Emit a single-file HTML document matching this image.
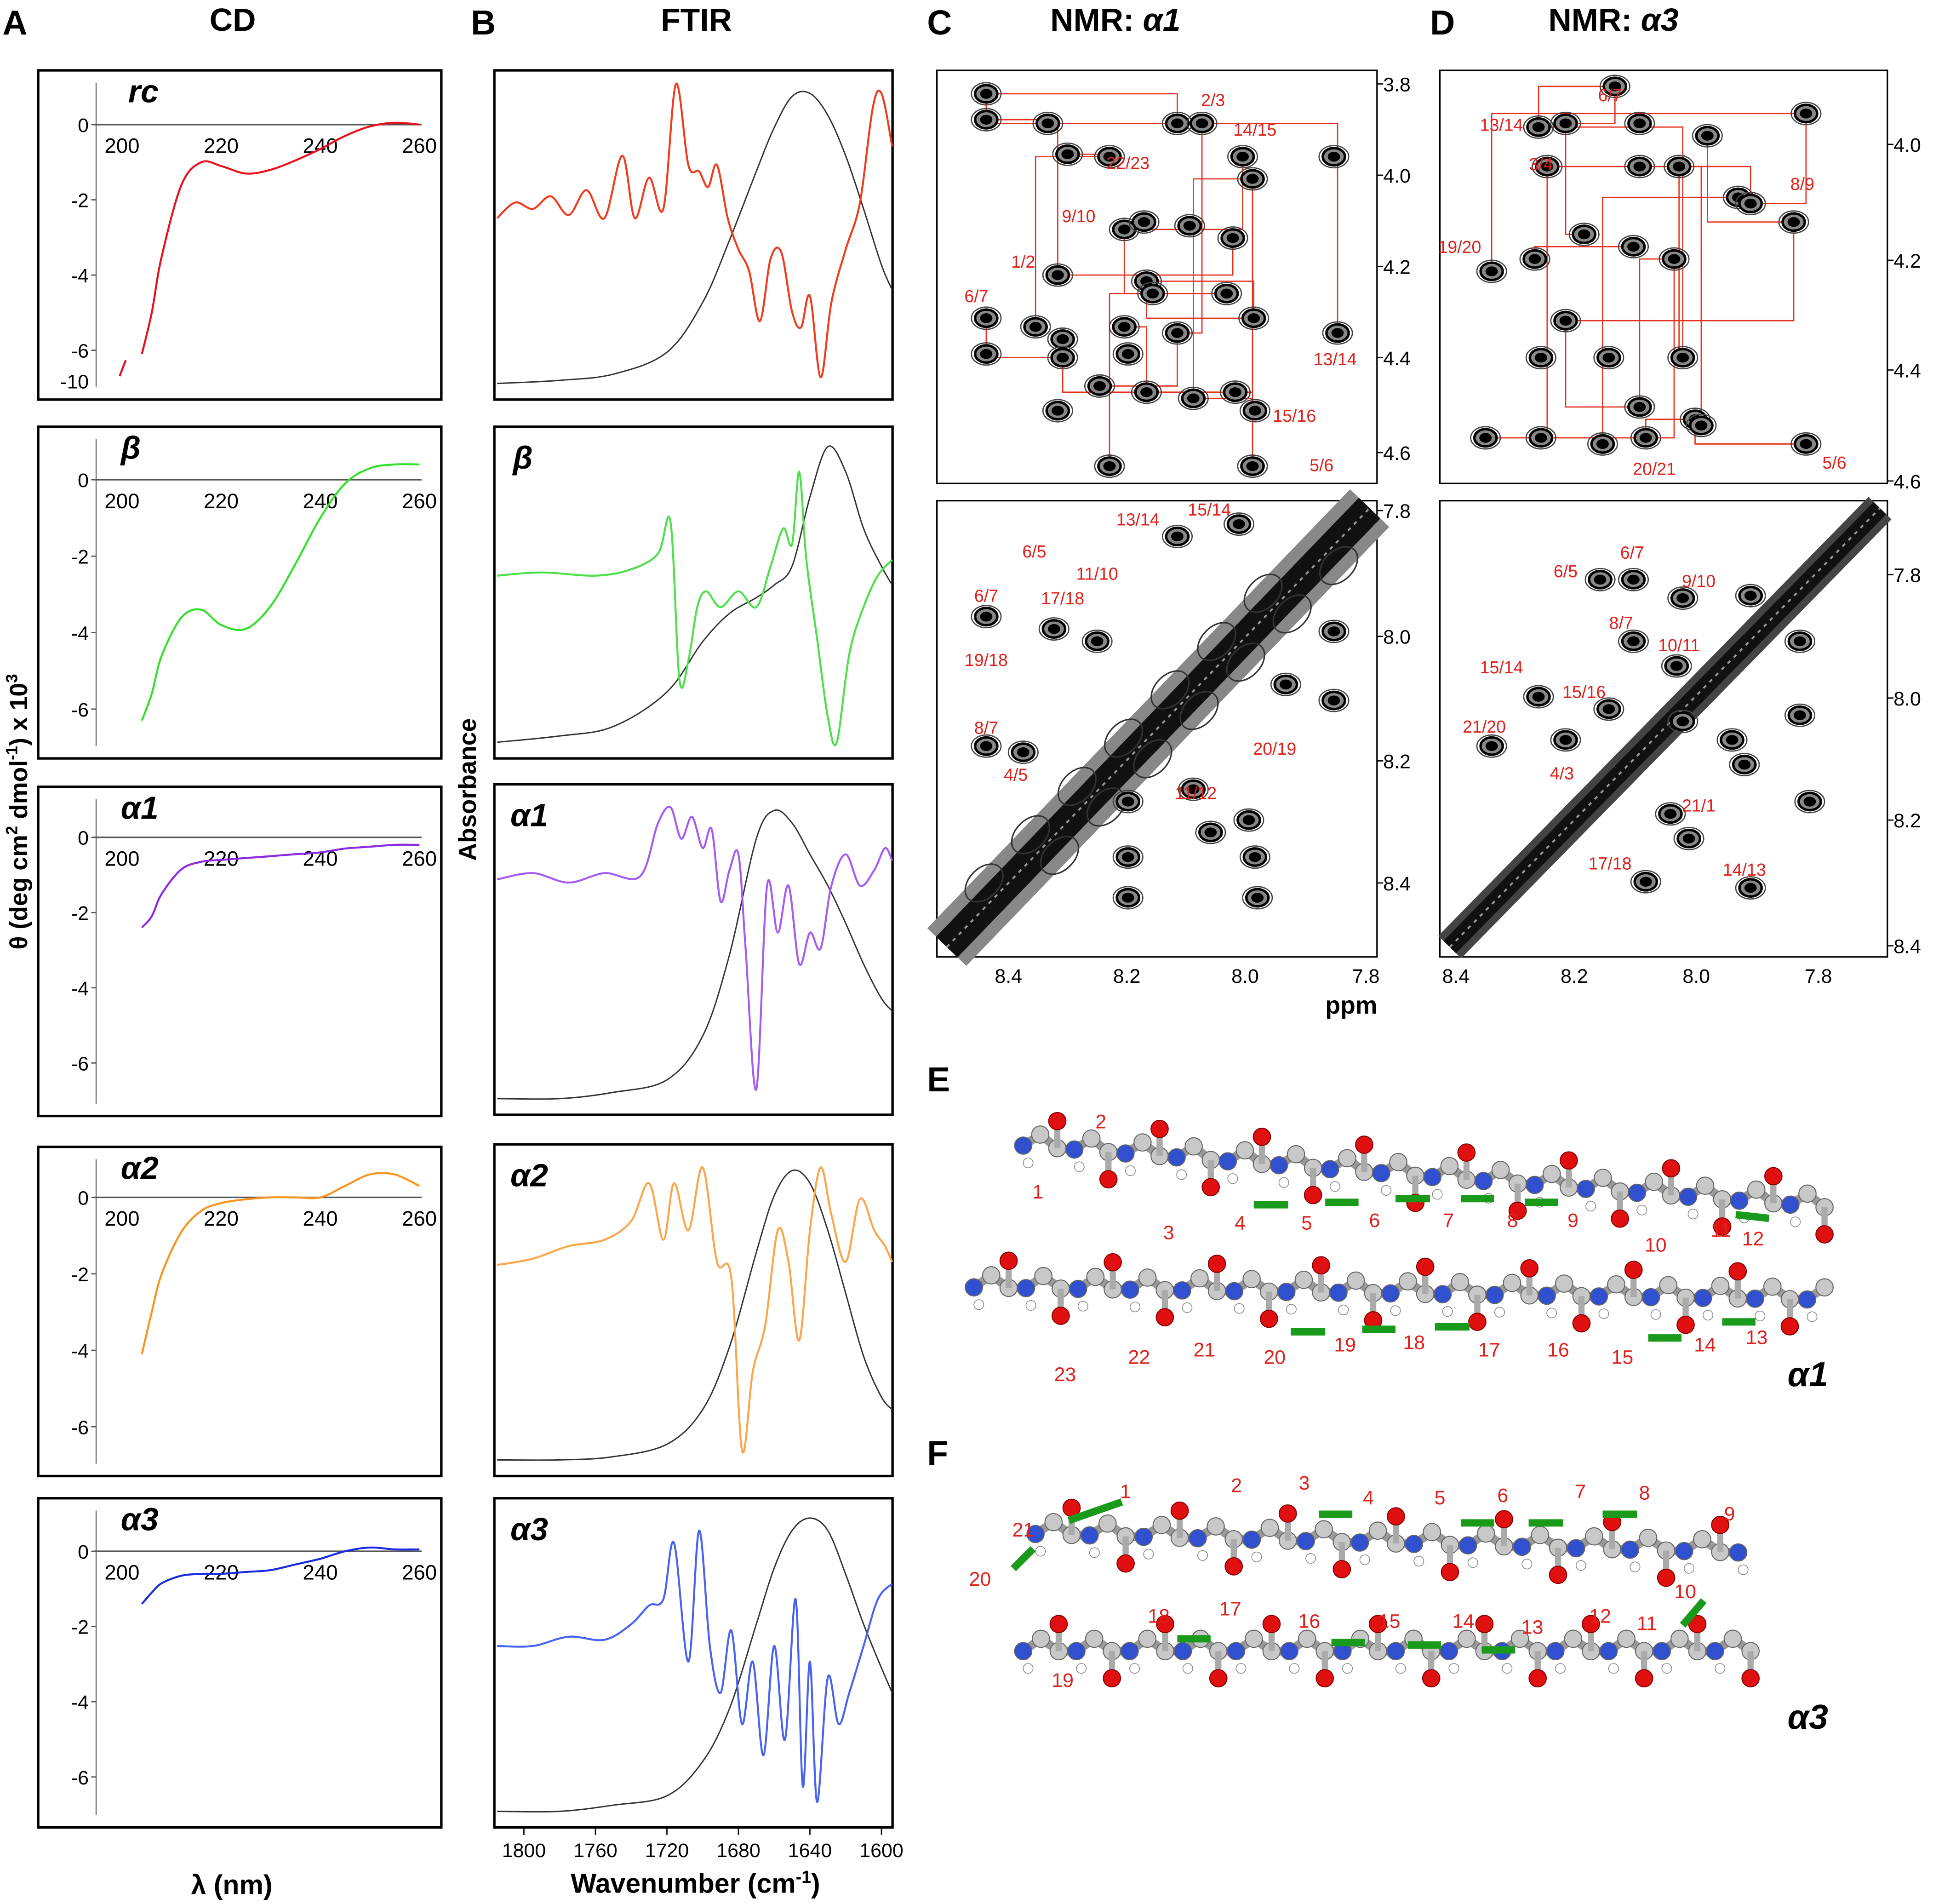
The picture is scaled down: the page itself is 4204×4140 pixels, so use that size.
<!DOCTYPE html>
<html><head><meta charset="utf-8"><style>
html,body{margin:0;padding:0;background:#fff}
svg{display:block}
text{font-family:"Liberation Sans",Arial,sans-serif}
</style></head><body>
<svg id="fig" xmlns="http://www.w3.org/2000/svg" width="4204" height="4140" viewBox="0 0 1568 1544">
<rect width="1568" height="1544" fill="#fff"/>
<g id="labels" font-weight="bold" font-size="28">
<text x="2" y="28">A</text>
<text x="170" y="25" font-size="26">CD</text>
<text x="382" y="28">B</text>
<text x="536" y="25" font-size="26">FTIR</text>
<text x="752" y="28">C</text>
<text x="852" y="25" font-size="26">NMR: <tspan font-style="italic">α1</tspan></text>
<text x="1160" y="28">D</text>
<text x="1256" y="25" font-size="26">NMR: <tspan font-style="italic">α3</tspan></text>
<text x="752" y="885">E</text>
<text x="752" y="1188">F</text>
<text x="155" y="1536" font-size="22">λ (nm)</text>
<text x="463" y="1535" font-size="22">Wavenumber (cm<tspan font-size="14" dy="-8">-1</tspan><tspan dy="8">)</tspan></text>
<text transform="translate(22,770) rotate(-90)" font-size="20">θ (deg cm<tspan font-size="13" dy="-8">2</tspan><tspan dy="8"> dmol</tspan><tspan font-size="13" dy="-8">-1</tspan><tspan dy="8">) x 10</tspan><tspan font-size="13" dy="-8">3</tspan></text>
<text transform="translate(386,698) rotate(-90)" font-size="20">Absorbance</text>
<text x="1075" y="822" font-size="20">ppm</text>
</g>
<g id="cd"></g><g id="ftir"></g><g id="nmr"></g><g id="mol"></g>
</svg>
<script>
const NS="http://www.w3.org/2000/svg";
function mk(parent,tag,attrs,txt){const e=document.createElementNS(NS,tag);for(const k in attrs)e.setAttribute(k,attrs[k]);if(txt!==undefined)e.textContent=txt;parent.appendChild(e);return e;}
function smooth(pts){let d="M"+pts[0][0].toFixed(1)+","+pts[0][1].toFixed(1);for(let i=0;i<pts.length-1;i++){const p0=pts[Math.max(0,i-1)],p1=pts[i],p2=pts[i+1],p3=pts[Math.min(pts.length-1,i+2)];d+="C"+(p1[0]+(p2[0]-p0[0])/6).toFixed(1)+","+(p1[1]+(p2[1]-p0[1])/6).toFixed(1)+" "+(p2[0]-(p3[0]-p1[0])/6).toFixed(1)+","+(p2[1]-(p3[1]-p1[1])/6).toFixed(1)+" "+p2[0].toFixed(1)+","+p2[1].toFixed(1);}return d;}

/* ---------- CD data ---------- */
const cdLambda=[204,206,208,212,216,220,225,230,235,240,245,250,255,260];
const cdRc=[-6.1,-5.0,-3.5,-1.6,-1.0,-1.1,-1.3,-1.2,-0.95,-0.65,-0.3,-0.05,0.05,0.0];
const cdBeta=[-6.3,-5.6,-4.6,-3.6,-3.4,-3.8,-3.9,-3.3,-2.2,-1.0,-0.1,0.3,0.4,0.4];
const cdA1=[-2.4,-2.1,-1.5,-0.85,-0.65,-0.6,-0.55,-0.5,-0.45,-0.4,-0.3,-0.25,-0.2,-0.2];
const cdA2=[-4.1,-3.0,-2.0,-0.9,-0.35,-0.15,-0.05,0.0,0.0,0.0,0.3,0.6,0.6,0.3];
const cdA3=[-1.4,-1.1,-0.85,-0.65,-0.6,-0.6,-0.55,-0.5,-0.35,-0.2,0.0,0.1,0.05,0.05];
const cdSeries=[cdRc,cdBeta,cdA1,cdA2,cdA3];
const cdNames=["rc","β","α1","α2","α3"];
const cdColors=["#e8101a","#33e02a","#8a2be2","#f7941d","#1a2be0"];
const cdTicksY=[0,-2,-4,-6];
const cdTicksX=[200,220,240,260];
const cdBoxes=[[57,324,101],[346,615,389],[638,905,679],[930,1197,971],[1215,1482,1258]];
const cdUnit=[30.5,31,30.5,31,30.5];
const cd=document.getElementById('cd');
cdSeries.forEach((ser,i)=>{
  const [top,bot,zy]=cdBoxes[i];const u=cdUnit[i];
  const xs=l=>99+(l-200)*4.02, ys=v=>zy-v*u;
  const g=mk(cd,'g',{});
  
  const r=mk(g,'rect',{x:31,y:top,width:327,height:bot-top,fill:'none',stroke:'#000','stroke-width':2});
  
  mk(g,'line',{x1:78,y1:top+10,x2:78,y2:bot-10,stroke:'#777','stroke-width':1});
  mk(g,'line',{x1:76,y1:zy,x2:342,y2:zy,stroke:'#555','stroke-width':1.2});
  cdTicksY.forEach(t=>{const y=ys(t);if(y>bot-8)return;mk(g,'line',{x1:74,y1:y,x2:78,y2:y,stroke:'#555'});
    const tl=mk(g,'text',{x:72,y:y+6,'font-size':16,'text-anchor':'end'},String(t));});
  cdTicksX.forEach(t=>{const tl=mk(g,'text',{x:xs(t),y:zy+23,'font-size':17,'text-anchor':'middle'},String(t));});
  const pts=cdLambda.map((l,k)=>[xs(l),ys(ser[k])]);
  const p=mk(g,'path',{d:smooth(pts),fill:'none',stroke:cdColors[i],'stroke-width':1.6});
  
  const nt=mk(g,'text',{x:i==0?104:98,y:top+26,'font-size':26,'font-weight':'bold','font-style':'italic'},cdNames[i]);
  
  if(i==0){mk(g,'text',{x:72,y:315,'font-size':16,'text-anchor':'end'},'-10');mk(g,'line',{x1:97,y1:305,x2:102,y2:292,stroke:'#e8101a','stroke-width':1.6});}
});

/* ---------- FTIR data ---------- */
const irWn=[[1815,1805,1795,1785,1775,1765,1755,1745,1738,1730,1722,1715,1708,1702,1697,1692,1686,1680,1674,1668,1662,1656,1650,1645,1640,1634,1628,1620,1612,1605,1600,1594],
 [1815,1790,1760,1740,1725,1718,1713,1708,1703,1698,1690,1680,1670,1662,1655,1650,1646,1642,1636,1630,1625,1618,1610,1602,1594],
 [1815,1795,1775,1755,1735,1725,1718,1712,1706,1700,1695,1690,1685,1680,1676,1670,1664,1658,1652,1646,1640,1634,1628,1620,1612,1604,1598,1594],
 [1815,1795,1775,1755,1740,1730,1722,1716,1708,1700,1692,1684,1678,1672,1665,1658,1652,1646,1640,1634,1628,1620,1612,1604,1598,1594],
 [1815,1795,1775,1755,1740,1730,1722,1716,1708,1702,1696,1690,1684,1678,1672,1666,1660,1654,1648,1644,1640,1636,1630,1624,1618,1610,1602,1594]];
const irColVals=[[0.45,0.40,0.42,0.38,0.44,0.36,0.45,0.25,0.45,0.32,0.42,0.02,0.28,0.30,0.35,0.28,0.45,0.55,0.62,0.78,0.58,0.56,0.75,0.80,0.70,0.96,0.72,0.55,0.40,0.10,0.05,0.22],
 [0.45,0.44,0.45,0.43,0.38,0.28,0.78,0.72,0.55,0.50,0.55,0.50,0.55,0.42,0.30,0.35,0.12,0.40,0.65,0.90,0.98,0.70,0.55,0.45,0.40],
 [0.28,0.26,0.29,0.26,0.27,0.10,0.05,0.15,0.08,0.18,0.12,0.35,0.25,0.20,0.50,0.95,0.30,0.45,0.30,0.55,0.45,0.50,0.30,0.20,0.30,0.25,0.18,0.22],
 [0.36,0.34,0.30,0.28,0.22,0.10,0.28,0.10,0.25,0.05,0.35,0.40,0.95,0.70,0.55,0.25,0.35,0.60,0.25,0.05,0.20,0.35,0.15,0.25,0.30,0.35],
 [0.45,0.45,0.42,0.43,0.38,0.32,0.30,0.12,0.50,0.08,0.45,0.60,0.40,0.70,0.50,0.80,0.45,0.75,0.30,0.90,0.50,0.95,0.55,0.70,0.60,0.45,0.30,0.25]];
const irBlkWn=[1815,1780,1750,1720,1700,1685,1670,1660,1650,1640,1630,1620,1610,1600,1594];
const irBlkVals=[[0.98,0.97,0.95,0.88,0.72,0.52,0.30,0.16,0.06,0.05,0.12,0.25,0.42,0.60,0.68],
 [0.98,0.96,0.93,0.82,0.66,0.57,0.52,0.48,0.42,0.20,0.04,0.12,0.30,0.42,0.48],
 [0.98,0.98,0.96,0.92,0.78,0.52,0.15,0.06,0.10,0.20,0.30,0.42,0.55,0.66,0.70],
 [0.98,0.98,0.97,0.93,0.82,0.62,0.32,0.14,0.06,0.10,0.25,0.45,0.65,0.78,0.82],
 [0.98,0.98,0.96,0.93,0.82,0.65,0.38,0.20,0.08,0.04,0.08,0.22,0.38,0.52,0.60]];
const irTicks=[1800,1760,1720,1680,1640,1600];
const irBoxes=[[57,324],[346,615],[636,904],[928,1197],[1215,1482]];
const irNames=["","β","α1","α2","α3"];
const irColors=["#f03c1e","#4ee04a","#a55cf2","#fba64a","#4a62f0"];
const ftir=document.getElementById('ftir');
const wx=w=>425+(1800-w)*1.45;
irBoxes.forEach(([top,bot],i)=>{
  const g=mk(ftir,'g',{});
  
  const r=mk(g,'rect',{x:401,y:top,width:323,height:bot-top,fill:'none',stroke:'#000','stroke-width':2});
  
  const h=bot-top-14, y0=top+6;
  const bp=mk(g,'path',{d:smooth(irBlkWn.map((w,k)=>[wx(w),y0+irBlkVals[i][k]*h])),fill:'none',stroke:'#333','stroke-width':1.1});
  
  const cp=mk(g,'path',{d:smooth(irWn[i].map((w,k)=>[wx(w),y0+irColVals[i][k]*h])),fill:'none',stroke:irColors[i],'stroke-width':1.6});
  
  if(irNames[i]){const t=mk(g,'text',{x:i==1?416:414,y:top+34,'font-size':26,'font-weight':'bold','font-style':'italic'},irNames[i]);}
});
irTicks.forEach(t=>{mk(ftir,'line',{x1:wx(t),y1:1482,x2:wx(t),y2:1488,stroke:'#000'});
  const tl=mk(ftir,'text',{x:wx(t),y:1506,'font-size':16,'text-anchor':'middle'},String(t));
  });

/* ---------- NMR ---------- */
const nmr=document.getElementById('nmr');
const nmrBoxes=[[760,57,1117,392],[760,406,1117,776],[1168,57,1531,392],[1168,406,1531,776]];
const nmrRightTicks=[[["3.8",68],["4.0",142],["4.2",216],["4.4",290],["4.6",367]],[["7.8",414],["8.0",516],["8.2",617],["8.4",716]],[["4.0",117],["4.2",211],["4.4",300],["4.6",390]],[["7.8",466],["8.0",566],["8.2",665],["8.4",767]]];
const nmrBottomTicks=[[["8.4",818],["8.2",914],["8.0",1010],["7.8",1108]],[["8.4",1181],["8.2",1277],["8.0",1376],["7.8",1475]]];
const pkC1=[[800,76],[800,97],[850,100],[955,100],[975,100],[1008,127],[1082,127],[866,125],[900,127],[1016,145],[912,186],[928,180],[965,183],[1000,193],[858,223],[930,228],[935,238],[995,238],[800,258],[840,265],[862,275],[862,290],[912,265],[955,270],[1017,258],[1085,270],[800,287],[915,287],[892,313],[930,318],[968,323],[1002,318],[1018,333],[858,333],[1016,378],[900,378]];
const pkC2=[[955,435],[1005,425],[855,510],[890,520],[800,500],[800,605],[830,610],[1082,512],[1082,568],[1043,555],[915,650],[1013,665],[982,675],[1018,695],[915,695],[1020,728],[915,728],[968,640]];
const pkD1=[[1310,70],[1465,92],[1248,103],[1270,100],[1330,100],[1385,110],[1255,135],[1330,135],[1362,135],[1410,160],[1455,180],[1210,220],[1245,210],[1285,190],[1325,200],[1358,210],[1420,165],[1270,260],[1250,290],[1305,290],[1365,290],[1330,330],[1375,340],[1205,355],[1250,355],[1300,360],[1335,355],[1380,345],[1465,360]];
const pkD2=[[1298,470],[1325,470],[1365,485],[1420,483],[1460,520],[1325,520],[1360,540],[1248,565],[1210,605],[1270,600],[1305,575],[1365,585],[1460,580],[1405,600],[1415,620],[1468,650],[1355,660],[1370,680],[1335,715],[1420,720]];
const nmrPeaks=[pkC1,pkC2,pkD1,pkD2];
nmrBoxes.forEach(([x1,y1,x2,y2],i)=>{
  const g=mk(nmr,'g',{});
  
  const r=mk(g,'rect',{x:x1,y:y1,width:x2-x1,height:y2-y1,fill:'#fff',stroke:'#000','stroke-width':1.2});
  
  if(i%2==1){
    const w=i==1?44:26;
    const band=mk(g,'line',{x1:x1+8,y1:y2-8,x2:x2-6,y2:y1+6,stroke:i==1?'#888':'#444','stroke-width':w});
    
    mk(g,'line',{x1:x1+8,y1:y2-8,x2:x2-6,y2:y1+6,stroke:'#111','stroke-width':w*0.55});
    mk(g,'line',{x1:x1+8,y1:y2-8,x2:x2-6,y2:y1+6,stroke:'#999','stroke-width':1.5,'stroke-dasharray':'3 4'});
    if(i==1){for(let k=0;k<14;k++){const f=0.15+k*0.055;const cx=x1+8+(x2-x1-14)*f, cy=y2-8-(y2-y1-14)*f;
      mk(g,'ellipse',{cx:cx+((k%2)?16:-16),cy:cy+((k%2)?14:-14),rx:18,ry:12,fill:'none',stroke:'#333','stroke-width':1.2,transform:`rotate(-45 ${cx} ${cy})`});}}
  }
  else{for(let k=0;k<20;k++){const a=nmrPeaks[i][(k*5)%nmrPeaks[i].length],b=nmrPeaks[i][(k*7+3)%nmrPeaks[i].length];
    mk(g,'polyline',{points:`${a[0]},${a[1]} ${a[0]},${b[1]} ${b[0]},${b[1]}`,fill:'none',stroke:'#e83020','stroke-width':1});}}
  nmrPeaks[i].forEach(p=>{
    mk(g,'ellipse',{cx:p[0],cy:p[1],rx:12,ry:9,fill:'none',stroke:'#444','stroke-width':1});
    const e=mk(g,'ellipse',{cx:p[0],cy:p[1],rx:9,ry:7,fill:'#888',stroke:'#000','stroke-width':2});
    
    mk(g,'ellipse',{cx:p[0],cy:p[1],rx:5,ry:4,fill:'#000'});});
  nmrRightTicks[i].forEach(([t,y])=>{mk(g,'line',{x1:x2,y1:y,x2:x2+5,y2:y,stroke:'#000'});
    const tl=mk(g,'text',{x:x2+5,y:y+6,'font-size':16},t);});
});
nmrBottomTicks.forEach(arr=>arr.forEach(([t,x])=>{const tl=mk(nmr,'text',{x:x,y:797,'font-size':16,'text-anchor':'middle'},t);}));
const nmrLabels=[["2/3",984,86],["14/15",1018,110],["22/23",915,137],["9/10",875,180],["1/2",830,217],["6/7",792,245],["13/14",1083,296],["15/16",1050,342],["5/6",1072,382],
["13/14",923,426],["15/14",981,418],["6/5",839,452],["6/7",800,488],["17/18",862,490],["11/10",890,470],["19/18",800,540],["8/7",800,595],["4/5",824,633],["20/19",1034,612],["11/12",970,648],
["6/7",1306,82],["13/14",1218,106],["3/4",1250,138],["8/9",1462,154],["19/20",1184,205],["20/21",1342,385],["5/6",1488,380],
["6/5",1270,468],["6/7",1324,453],["9/10",1378,476],["8/7",1315,510],["10/11",1362,528],["15/14",1218,546],["15/16",1285,566],["21/20",1204,594],["4/3",1267,632],["21/1",1378,658],["17/18",1306,705],["14/13",1415,710]];
nmrLabels.forEach(([t,x,y])=>{const tl=mk(nmr,'text',{x:x,y:y,'font-size':14,fill:'#e0201a','text-anchor':'middle'},t);});

/* ---------- Molecules ---------- */
const mol=document.getElementById('mol');
function chain(pts,lbls,dashes,name){
  const g=mk(mol,'g',{});
  mk(g,'polyline',{points:pts.map(p=>p.join(',')).join(' '),fill:'none',stroke:'#999','stroke-width':7});
  pts.forEach((p,k)=>{const c=k%3==0?'#3050d0':'#c8c8c8';mk(g,'circle',{cx:p[0],cy:p[1],r:7,fill:c,stroke:'#666','stroke-width':0.8});
    if(k%3==2){const dy=(k%6==2)?-22:22;mk(g,'line',{x1:p[0],y1:p[1],x2:p[0],y2:p[1]+dy,stroke:'#aaa','stroke-width':5});mk(g,'circle',{cx:p[0],cy:p[1]+dy,r:7,fill:'#e01010',stroke:'#800','stroke-width':0.8});}
    if(k%3==0){mk(g,'circle',{cx:p[0]+4,cy:p[1]+14,r:4,fill:'#fff',stroke:'#888','stroke-width':0.6});}});
  dashes.forEach(([x,y,x2,y2])=>mk(g,'line',{x1:x,y1:y,x2:x2,y2:y2,stroke:'#1a9a1a','stroke-width':6}));
  lbls.forEach(([t,x,y])=>mk(g,'text',{x:x,y:y,'font-size':16,fill:'#e0201a','text-anchor':'middle'},t));
}
function line(x1,y1,x2,y2,n){const a=[];for(let k=0;k<n;k++){const f=k/(n-1);a.push([x1+(x2-x1)*f,y1+(y2-y1)*f+((k%3==1)?-6:4)]);}return a;}
chain(line(830,925,1480,975,48),[["1",842,972],["2",893,915],["3",948,1005],["4",1006,997],["5",1060,997],["6",1115,995],["7",1175,995],["8",1227,995],["9",1276,995],["10",1343,1015],["11",1396,1003],["12",1422,1010]],
 [[1017,977,1045,977],[1075,975,1102,975],[1132,972,1160,972],[1185,972,1212,972],[1237,975,1264,975],[1408,985,1435,988]],'alpha1-model-upper');
chain(line(790,1040,1480,1050,50),[["23",864,1120],["22",924,1106],["21",977,1100],["20",1034,1106],["19",1091,1096],["18",1147,1094],["17",1208,1100],["16",1264,1100],["15",1316,1106],["14",1383,1096],["13",1425,1090]],
 [[1047,1080,1075,1080],[1105,1078,1132,1078],[1164,1076,1192,1076],[1337,1085,1364,1085],[1397,1072,1424,1072]],'alpha1-model-lower');
chain(line(840,1240,1410,1255,40),[["1",913,1215],["2",1003,1210],["3",1058,1208],["4",1110,1220],["5",1168,1220],["6",1219,1218],["7",1282,1215],["8",1334,1216],["9",1403,1233],["21",830,1246],["20",795,1286]],
 [[867,1233,910,1218],[1070,1228,1097,1228],[1185,1235,1212,1235],[1240,1235,1268,1235],[1300,1228,1328,1228],[822,1272,838,1256]],'alpha3-model-upper');
chain(line(830,1335,1420,1335,42),[["10",1367,1296],["18",940,1316],["17",998,1310],["16",1062,1320],["15",1127,1320],["14",1187,1320],["13",1243,1325],["12",1298,1316],["11",1336,1322],["19",862,1368]],
 [[955,1329,982,1329],[1080,1332,1107,1332],[1142,1334,1169,1334],[1202,1338,1229,1338],[1365,1318,1382,1298]],'alpha3-model-lower');
const t1=mk(mol,'text',{x:1450,y:1124,'font-size':28,'font-weight':'bold','font-style':'italic'},'α1');
const t3=mk(mol,'text',{x:1450,y:1402,'font-size':28,'font-weight':'bold','font-style':'italic'},'α3');
</script>
</body></html>
